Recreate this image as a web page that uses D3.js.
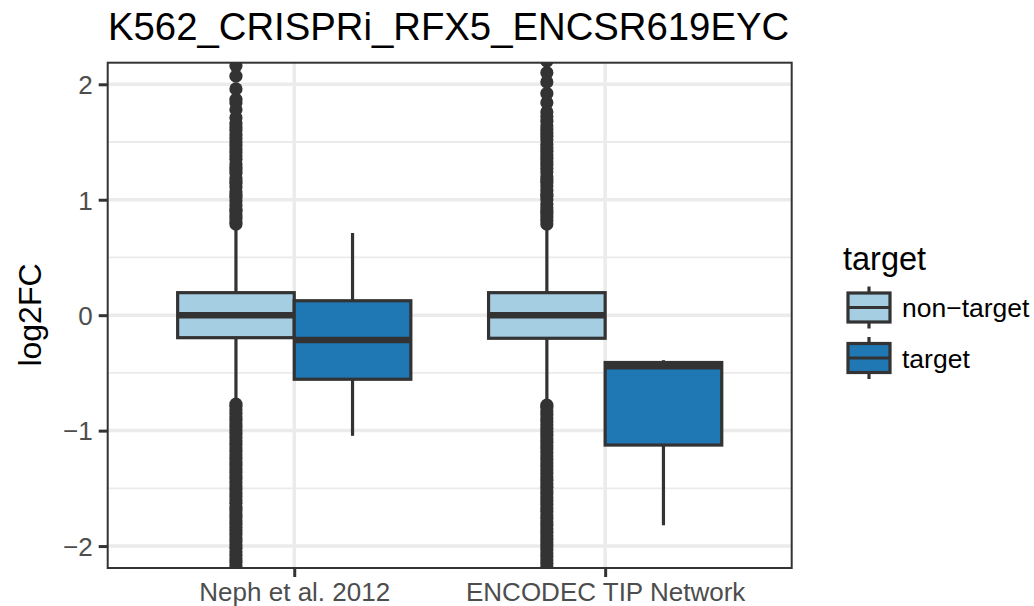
<!DOCTYPE html>
<html><head><meta charset="utf-8">
<script src="https://cdn.jsdelivr.net/npm/d3@7"></script>
<style>body{margin:0;background:#fff;} text{font-family:"Liberation Sans",Arial,sans-serif;}</style>
</head><body><svg id="c" width="1034" height="606"></svg>
<script>
const title = "K562_CRISPRi_RFX5_ENCSR619EYC";
const categories = ["Neph et al. 2012", "ENCODEC TIP Network"];
const groups = ["non-target", "target"];
const groupColors = ["#a6cee3", "#1f78b4"];
const yTicks = [-2, -1, 0, 1, 2];
const yMinor = [-1.5, -0.5, 0.5, 1.5];
// [lower whisker, q1, median, q3, upper whisker]
const nephNonTarget = [-0.78, -0.195, 0.0, 0.195, 0.78];
const nephTarget = [-1.045, -0.555, -0.215, 0.125, 0.712];
const encNonTarget = [-0.78, -0.2, 0.0, 0.195, 0.78];
const encTarget = [-1.82, -1.125, -0.443, -0.41, -0.39];
const nephOutliers = [0.79,0.81,0.84,0.87,0.9,0.92,0.95,0.99,1.02,1.04,1.07,1.11,1.14,1.16,1.19,1.23,1.26,1.28,1.31,1.35,1.38,1.41,1.44,1.47,1.5,1.53,1.56,1.6,1.63,1.66,1.71,1.78,1.84,1.87,1.96,2.07,2.16,2.27,
  -0.77,-0.79,-0.82,-0.85,-0.88,-0.91,-0.94,-0.97,-1.0,-1.03,-1.06,-1.09,-1.12,-1.15,-1.18,-1.21,-1.24,-1.27,-1.3,-1.33,-1.36,-1.39,-1.42,-1.45,-1.48,-1.51,-1.54,-1.57,-1.6,-1.63,-1.66,-1.69,-1.72,-1.75,-1.78,-1.81,-1.84,-1.87,-1.9,-1.93,-1.96,-1.99,-2.02,-2.05,-2.08,-2.11,-2.14,-2.17,-2.21,-2.26];
const encOutliers = [0.79,0.82,0.85,0.88,0.9,0.93,0.96,1.0,1.03,1.05,1.08,1.12,1.15,1.17,1.2,1.24,1.27,1.3,1.33,1.36,1.39,1.42,1.45,1.48,1.52,1.55,1.58,1.61,1.64,1.68,1.72,1.76,1.84,1.92,2.02,2.1,2.2,2.28,
  -0.78,-0.8,-0.83,-0.86,-0.89,-0.92,-0.95,-0.98,-1.01,-1.04,-1.07,-1.1,-1.13,-1.16,-1.19,-1.22,-1.25,-1.28,-1.31,-1.34,-1.37,-1.4,-1.43,-1.46,-1.49,-1.52,-1.55,-1.58,-1.61,-1.64,-1.67,-1.7,-1.73,-1.76,-1.79,-1.82,-1.85,-1.88,-1.91,-1.94,-1.97,-2.0,-2.03,-2.06,-2.09,-2.12,-2.15,-2.18,-2.22,-2.27];

const boxes = [
  {cat: categories[0], grp: groups[0], s: nephNonTarget, out: nephOutliers},
  {cat: categories[0], grp: groups[1], s: nephTarget, out: []},
  {cat: categories[1], grp: groups[0], s: encNonTarget, out: encOutliers},
  {cat: categories[1], grp: groups[1], s: encTarget, out: []}
];

const svg = d3.select("#c");
const P = {l: 107.7, r: 791.7, t: 62.7, b: 568};
const y = d3.scaleLinear().domain([-2.19, 2.187]).range([P.b, P.t]);
const x = d3.scalePoint().domain(categories).range([P.l, P.r]).padding(0.6);
const step = x.step();
const xg = d3.scaleBand().domain(groups).range([-0.375 * step, 0.375 * step]);
const color = d3.scaleOrdinal().domain(groups).range(groupColors);
const dark = "#333333";

// grid
const g = svg.append("g");
g.selectAll(".ymin").data(yMinor).join("line")
  .attr("x1", P.l).attr("x2", P.r).attr("y1", d => y(d)).attr("y2", d => y(d))
  .attr("stroke", "#ebebeb").attr("stroke-width", 1.8);
g.selectAll(".ymaj").data(yTicks).join("line")
  .attr("x1", P.l).attr("x2", P.r).attr("y1", d => y(d)).attr("y2", d => y(d))
  .attr("stroke", "#ebebeb").attr("stroke-width", 3.5);
g.selectAll(".xmaj").data(categories).join("line")
  .attr("x1", d => x(d)).attr("x2", d => x(d)).attr("y1", P.t).attr("y2", P.b)
  .attr("stroke", "#ebebeb").attr("stroke-width", 3.5);

svg.append("clipPath").attr("id", "clip").append("rect")
  .attr("x", P.l).attr("y", P.t).attr("width", P.r - P.l).attr("height", P.b - P.t);
const plot = svg.append("g").attr("clip-path", "url(#clip)");

const bw = xg.bandwidth();
boxes.forEach(b => {
  const cx = x(b.cat) + xg(b.grp) + bw / 2;
  const s = b.s;
  const gg = plot.append("g");
  gg.append("line").attr("x1", cx).attr("x2", cx).attr("y1", y(s[3])).attr("y2", y(s[4]))
    .attr("stroke", dark).attr("stroke-width", 3.2);
  gg.append("line").attr("x1", cx).attr("x2", cx).attr("y1", y(s[1])).attr("y2", y(s[0]))
    .attr("stroke", dark).attr("stroke-width", 3.2);
  gg.selectAll("circle").data(b.out).join("circle")
    .attr("cx", cx).attr("cy", d => y(d)).attr("r", 6.6).attr("fill", dark);
  gg.append("rect").attr("x", cx - bw / 2).attr("width", bw)
    .attr("y", y(s[3])).attr("height", y(s[1]) - y(s[3]))
    .attr("fill", color(b.grp)).attr("stroke", dark).attr("stroke-width", 3.2);
  gg.append("line").attr("x1", cx - bw / 2).attr("x2", cx + bw / 2)
    .attr("y1", y(s[2])).attr("y2", y(s[2])).attr("stroke", dark).attr("stroke-width", 6.4);
});

svg.append("rect").attr("x", P.l).attr("y", P.t).attr("width", P.r - P.l).attr("height", P.b - P.t)
  .attr("fill", "none").attr("stroke", dark).attr("stroke-width", 2);

// y axis
const yAxis = svg.append("g").attr("transform", `translate(${P.l},0)`)
  .call(d3.axisLeft(y).tickValues(yTicks).tickSize(9).tickPadding(6).tickFormat(d => d < 0 ? "\u2212" + Math.abs(d) : d));
yAxis.select(".domain").remove();
yAxis.selectAll("line").attr("stroke", dark).attr("stroke-width", 3);
yAxis.selectAll("text").attr("fill", "#4d4d4d").style("font-size", "26px").attr("dy", "0.36em");

// x axis
const xAxis = svg.append("g").attr("transform", `translate(0,${P.b})`)
  .call(d3.axisBottom(x).tickSize(9).tickPadding(6));
xAxis.select(".domain").remove();
xAxis.selectAll("line").attr("stroke", dark).attr("stroke-width", 3);
xAxis.selectAll("text").attr("fill", "#4d4d4d").style("font-size", "26px")
  .attr("y", 33).attr("dy", 0);

// title
svg.append("text").attr("x", 108).attr("y", 40)
  .style("font-size", "38.3px").attr("fill", "#000").text(title);

// y title
svg.append("text").attr("transform", `translate(41,315) rotate(-90)`)
  .attr("text-anchor", "middle").style("font-size", "32px").attr("fill", "#000").text("log2FC");

// legend
const lg = svg.append("g");
lg.append("text").attr("x", 843).attr("y", 270)
  .style("font-size", "32.5px").attr("fill", "#000").text("target");
const ly = d3.scalePoint().domain(groups).range([307.5, 358]);
groups.forEach(grp => {
  const cy = ly(grp), kx = 869;
  lg.append("line").attr("x1", kx).attr("x2", kx).attr("y1", cy - 21).attr("y2", cy + 21)
    .attr("stroke", dark).attr("stroke-width", 3.2);
  lg.append("rect").attr("x", kx - 21).attr("y", cy - 14.5).attr("width", 42).attr("height", 29)
    .attr("fill", color(grp)).attr("stroke", dark).attr("stroke-width", 3.2);
  lg.append("line").attr("x1", kx - 21).attr("x2", kx + 21).attr("y1", cy).attr("y2", cy)
    .attr("stroke", dark).attr("stroke-width", 3.2);
  lg.append("text").attr("x", 902).attr("y", cy + 9.5)
    .style("font-size", "26.5px").attr("fill", "#000").text(grp === "non-target" ? "non\u2212target" : grp);
});
</script></body></html>
